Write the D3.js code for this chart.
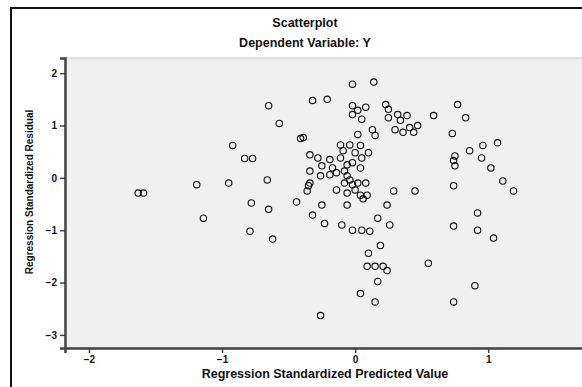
<!DOCTYPE html>
<html>
<head>
<meta charset="utf-8">
<script src="https://cdn.jsdelivr.net/npm/d3@7"></script>
<style>
  body { margin: 0; background: #fff; }
  text { font-family: 'Liberation Sans', Arial, sans-serif; fill: #111; }
</style>
</head>
<body>
<svg id="chart" width="582" height="387"></svg>
<script>
// standardized predicted value (x) and standardized residual (y)
const predicted = [
  -1.63, -1.59, -1.19, -1.14, -0.95, -0.92, -0.83, -0.77, -0.79, -0.78,
  -0.65, -0.57, -0.66, -0.65, -0.62, -0.44, -0.41, -0.32, -0.21, -0.34,
  -0.28, -0.34, -0.26, -0.35, -0.36, -0.25, -0.32, -0.23, -0.26, -0.02,
  0.14, -0.02, 0.02, -0.02, 0.08, 0.05, 0.23, 0.25, 0.25, 0.32,
  0.34, 0.39, 0.41, 0.47, 0.30, 0.44, 0.36, 0.59, 0.77, 0.83,
  0.73, 0.02, 0.13, 0.15, -0.39, -0.11, -0.04, 0.04, 0.10, -0.09,
  0.00, -0.19, -0.06, -0.08, -0.06, -0.04, -0.02, 0.02, 0.08, -0.14,
  -0.19, -0.17, -0.25, -0.34, -0.14, -0.06, 0.04, 0.09, 0.74, 0.75,
  0.75, 0.86, 0.96, 1.07, 0.95, 1.02, 1.11, 1.19, 0.74, 0.29,
  0.45, -0.06, 0.24, 0.06, 0.17, 0.26, -0.10, -0.02, 0.05, 0.11,
  0.19, 0.10, 0.09, 0.15, 0.21, 0.24, 0.17, 0.04, 0.15, 0.55,
  0.74, 0.92, 0.92, 1.04, 0.90, 0.74, -0.11, -0.02, 0.04, -0.08,
  0.00, 0.05
];
const residual = [
  -0.29, -0.29, -0.13, -0.77, -0.10, 0.62, 0.37, 0.37, -1.02, -0.48,
  1.38, 1.04, -0.04, -0.60, -1.17, -0.46, 0.75, 1.48, 1.50, 0.44,
  0.38, 0.13, 0.04, -0.15, -0.25, -0.52, -0.71, -0.87, -2.63, 1.79,
  1.83, 1.38, 1.29, 1.21, 1.35, 1.12, 1.40, 1.31, 1.15, 1.21,
  1.10, 1.19, 0.96, 1.00, 0.92, 0.87, 0.87, 1.19, 1.40, 1.15,
  0.85, 0.83, 0.92, 0.81, 0.77, 0.63, 0.63, 0.62, 0.48, 0.52,
  0.48, 0.35, 0.25, 0.13, 0.04, -0.04, -0.13, -0.10, -0.10, 0.10,
  0.06, 0.19, 0.23, -0.10, -0.23, -0.29, -0.33, -0.33, 0.33, 0.23,
  0.42, 0.52, 0.62, 0.67, 0.38, 0.19, -0.06, -0.25, -0.15, -0.25,
  -0.25, -0.52, -0.52, -0.40, -0.77, -0.90, -0.90, -1.00, -1.00, -1.02,
  -1.29, -1.44, -1.69, -1.69, -1.69, -1.77, -1.98, -2.21, -2.37, -1.63,
  -0.92, -0.67, -1.00, -1.15, -2.06, -2.37, 0.38, 0.29, 0.19, -0.10,
  -0.23, 0.38
];
const xTicks = [-2, -1, 0, 1];
const yTicks = [2, 1, 0, -1, -2, -3];
const titleLines = ['Scatterplot', 'Dependent Variable: Y'];
const xTitle = 'Regression Standardized Predicted Value';
const yTitle = 'Regression Standardized Residual';

const points = predicted.map(function(d, i) { return {x: d, y: residual[i]}; });

const svg = d3.select('#chart');
const plotLeft = 65, plotRight = 600, plotTop = 58, plotBottom = 348;

const x = d3.scaleLinear().domain([-2.18, 1.84]).range([plotLeft, plotRight]);
const y = d3.scaleLinear().domain([-3.25, 2.29]).range([plotBottom, plotTop]);

// outer frame of the output pane
svg.append('line')
    .attr('x1', 10).attr('x2', 582).attr('y1', 8).attr('y2', 8)
    .attr('stroke', '#111').attr('stroke-width', 2);
svg.append('line')
    .attr('x1', 11).attr('x2', 11).attr('y1', 8).attr('y2', 387)
    .attr('stroke', '#111').attr('stroke-width', 2);

// titles
svg.selectAll('.title')
    .data(titleLines)
    .enter().append('text')
    .attr('class', 'title')
    .attr('x', 305)
    .attr('y', function(d, i) { return 27 + i * 20; })
    .attr('text-anchor', 'middle')
    .attr('font-size', 12.5)
    .attr('font-weight', 'bold')
    .text(function(d) { return d; });

// plot background
svg.append('rect')
    .attr('x', plotLeft).attr('y', plotTop)
    .attr('width', plotRight - plotLeft).attr('height', plotBottom - plotTop)
    .attr('fill', '#f0f0f0')
    .attr('stroke', '#c8c8c8');

// axes
const xAxis = svg.append('g')
    .attr('transform', 'translate(0,' + plotBottom + ')')
    .call(d3.axisBottom(x).tickValues(xTicks).tickSize(5).tickFormat(d3.format('d')));
const yAxis = svg.append('g')
    .attr('transform', 'translate(' + plotLeft + ',0)')
    .call(d3.axisLeft(y).tickValues(yTicks).tickSize(5).tickFormat(d3.format('d')));

[xAxis, yAxis].forEach(function(g) {
  g.select('.domain').attr('stroke', '#444').attr('stroke-width', 2.5);
  g.selectAll('.tick line').attr('stroke', '#444').attr('stroke-width', 1.5);
  g.selectAll('.tick text')
      .attr('font-family', "'Liberation Sans', Arial, sans-serif")
      .attr('font-size', 10)
      .attr('font-weight', 'bold')
      .attr('fill', '#111');
});

// axis titles
svg.append('text')
    .attr('x', 325).attr('y', 378)
    .attr('text-anchor', 'middle')
    .attr('font-size', 12.5)
    .attr('font-weight', 'bold')
    .text(xTitle);
svg.append('text')
    .attr('transform', 'translate(33,192) rotate(-90)')
    .attr('text-anchor', 'middle')
    .attr('font-size', 10)
    .attr('font-weight', 'bold')
    .text(yTitle);

// markers
svg.append('g')
    .selectAll('circle')
    .data(points)
    .enter().append('circle')
    .attr('cx', function(d) { return x(d.x); })
    .attr('cy', function(d) { return y(d.y); })
    .attr('r', 3.2)
    .attr('fill', 'none')
    .attr('stroke', '#111')
    .attr('stroke-width', 1.1);
</script>
</body>
</html>
